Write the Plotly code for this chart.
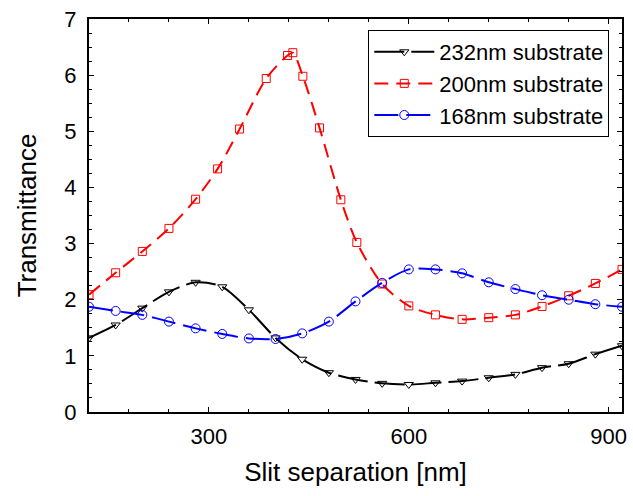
import plotly.graph_objects as go

# Data
x_232 = [120, 160, 200, 240, 280, 320, 360, 400, 440, 480, 520, 560, 600, 640, 680, 720, 760, 800, 840, 880, 920]
y_232 = [1.32, 1.55, 1.85, 2.14, 2.31, 2.23, 1.82, 1.32, 0.94, 0.70, 0.58, 0.51, 0.49, 0.52, 0.55, 0.61, 0.67, 0.79, 0.86, 1.03, 1.18]

x_200 = [120, 160, 200, 240, 280, 313, 346, 386, 418, 426, 441, 466, 498, 522, 560, 600, 640, 680, 720, 760, 800, 840, 880, 920]
y_200 = [2.09, 2.48, 2.86, 3.27, 3.79, 4.33, 5.04, 5.94, 6.35, 6.40, 5.98, 5.06, 3.78, 3.02, 2.28, 1.89, 1.73, 1.65, 1.68, 1.73, 1.88, 2.07, 2.29, 2.54]

x_168 = [120, 160, 200, 240, 280, 320, 360, 400, 440, 480, 520, 560, 600, 640, 680, 720, 760, 800, 840, 880, 920]
y_168 = [1.875, 1.80, 1.73, 1.61, 1.49, 1.39, 1.31, 1.30, 1.40, 1.61, 1.97, 2.30, 2.54, 2.54, 2.47, 2.31, 2.19, 2.08, 2.00, 1.92, 1.875]

x_ticks = [300, 600, 900]
y_ticks = [0, 1, 2, 3, 4, 5, 6, 7]

FONT = "Liberation Sans, Arial, sans-serif"

fig = go.Figure()
fig.add_trace(go.Scatter(
    x=x_232, y=y_232, name="232nm substrate", mode="lines+markers",
    line=dict(color="black", width=2, dash="30px,7px", shape="spline", smoothing=0.8),
    marker=dict(symbol="triangle-down-open", size=8, color="black", line=dict(width=1)),
))
fig.add_trace(go.Scatter(
    x=x_200, y=y_200, name="200nm substrate", mode="lines+markers",
    line=dict(color="#ff0000", width=2, dash="14px,8px", shape="spline", smoothing=0.8),
    marker=dict(symbol="square-open", size=8, color="#ff0000", line=dict(width=1)),
))
fig.add_trace(go.Scatter(
    x=x_168, y=y_168, name="168nm substrate", mode="lines+markers",
    line=dict(color="#0000ff", width=2, dash="24px,8px", shape="spline", smoothing=0.8),
    marker=dict(symbol="circle-open", size=9, color="#0000ff", line=dict(width=1)),
))

axis_common = dict(
    showline=True, linecolor="black", linewidth=2, mirror="ticks",
    ticks="inside", tickcolor="black", tickwidth=1, ticklen=5,
    showgrid=False, zeroline=False,
    tickfont=dict(family=FONT, size=22, color="black"),
)

fig.update_xaxes(
    range=[120, 920], tickvals=x_ticks,
    minor=dict(ticks="inside", dtick=60, tick0=0, ticklen=3, tickcolor="black", showgrid=False),
    title=dict(text="Slit separation [nm]", font=dict(family=FONT, size=26, color="black"), standoff=14),
    ticklabelstandoff=4,
    **axis_common,
)
fig.update_yaxes(
    range=[0, 7], tickvals=y_ticks,
    minor=dict(ticks="inside", dtick=0.25, tick0=0, ticklen=3, tickcolor="black", showgrid=False),
    title=dict(text="Transmittance", font=dict(family=FONT, size=26, color="black"), standoff=20),
    ticklabelstandoff=6,
    **axis_common,
)

fig.update_layout(
    width=633, height=496,
    margin=dict(l=89, r=6, t=19, b=84),
    paper_bgcolor="white", plot_bgcolor="white",
    font=dict(family=FONT, color="black"),
    showlegend=True,
    legend=dict(
        x=0.524, y=0.972, xanchor="left", yanchor="top",
        bgcolor="white", bordercolor="black", borderwidth=1,
        font=dict(family=FONT, size=22, color="black"),
        itemwidth=60, tracegroupgap=0,
    ),
)

fig.write_html("out.html")
